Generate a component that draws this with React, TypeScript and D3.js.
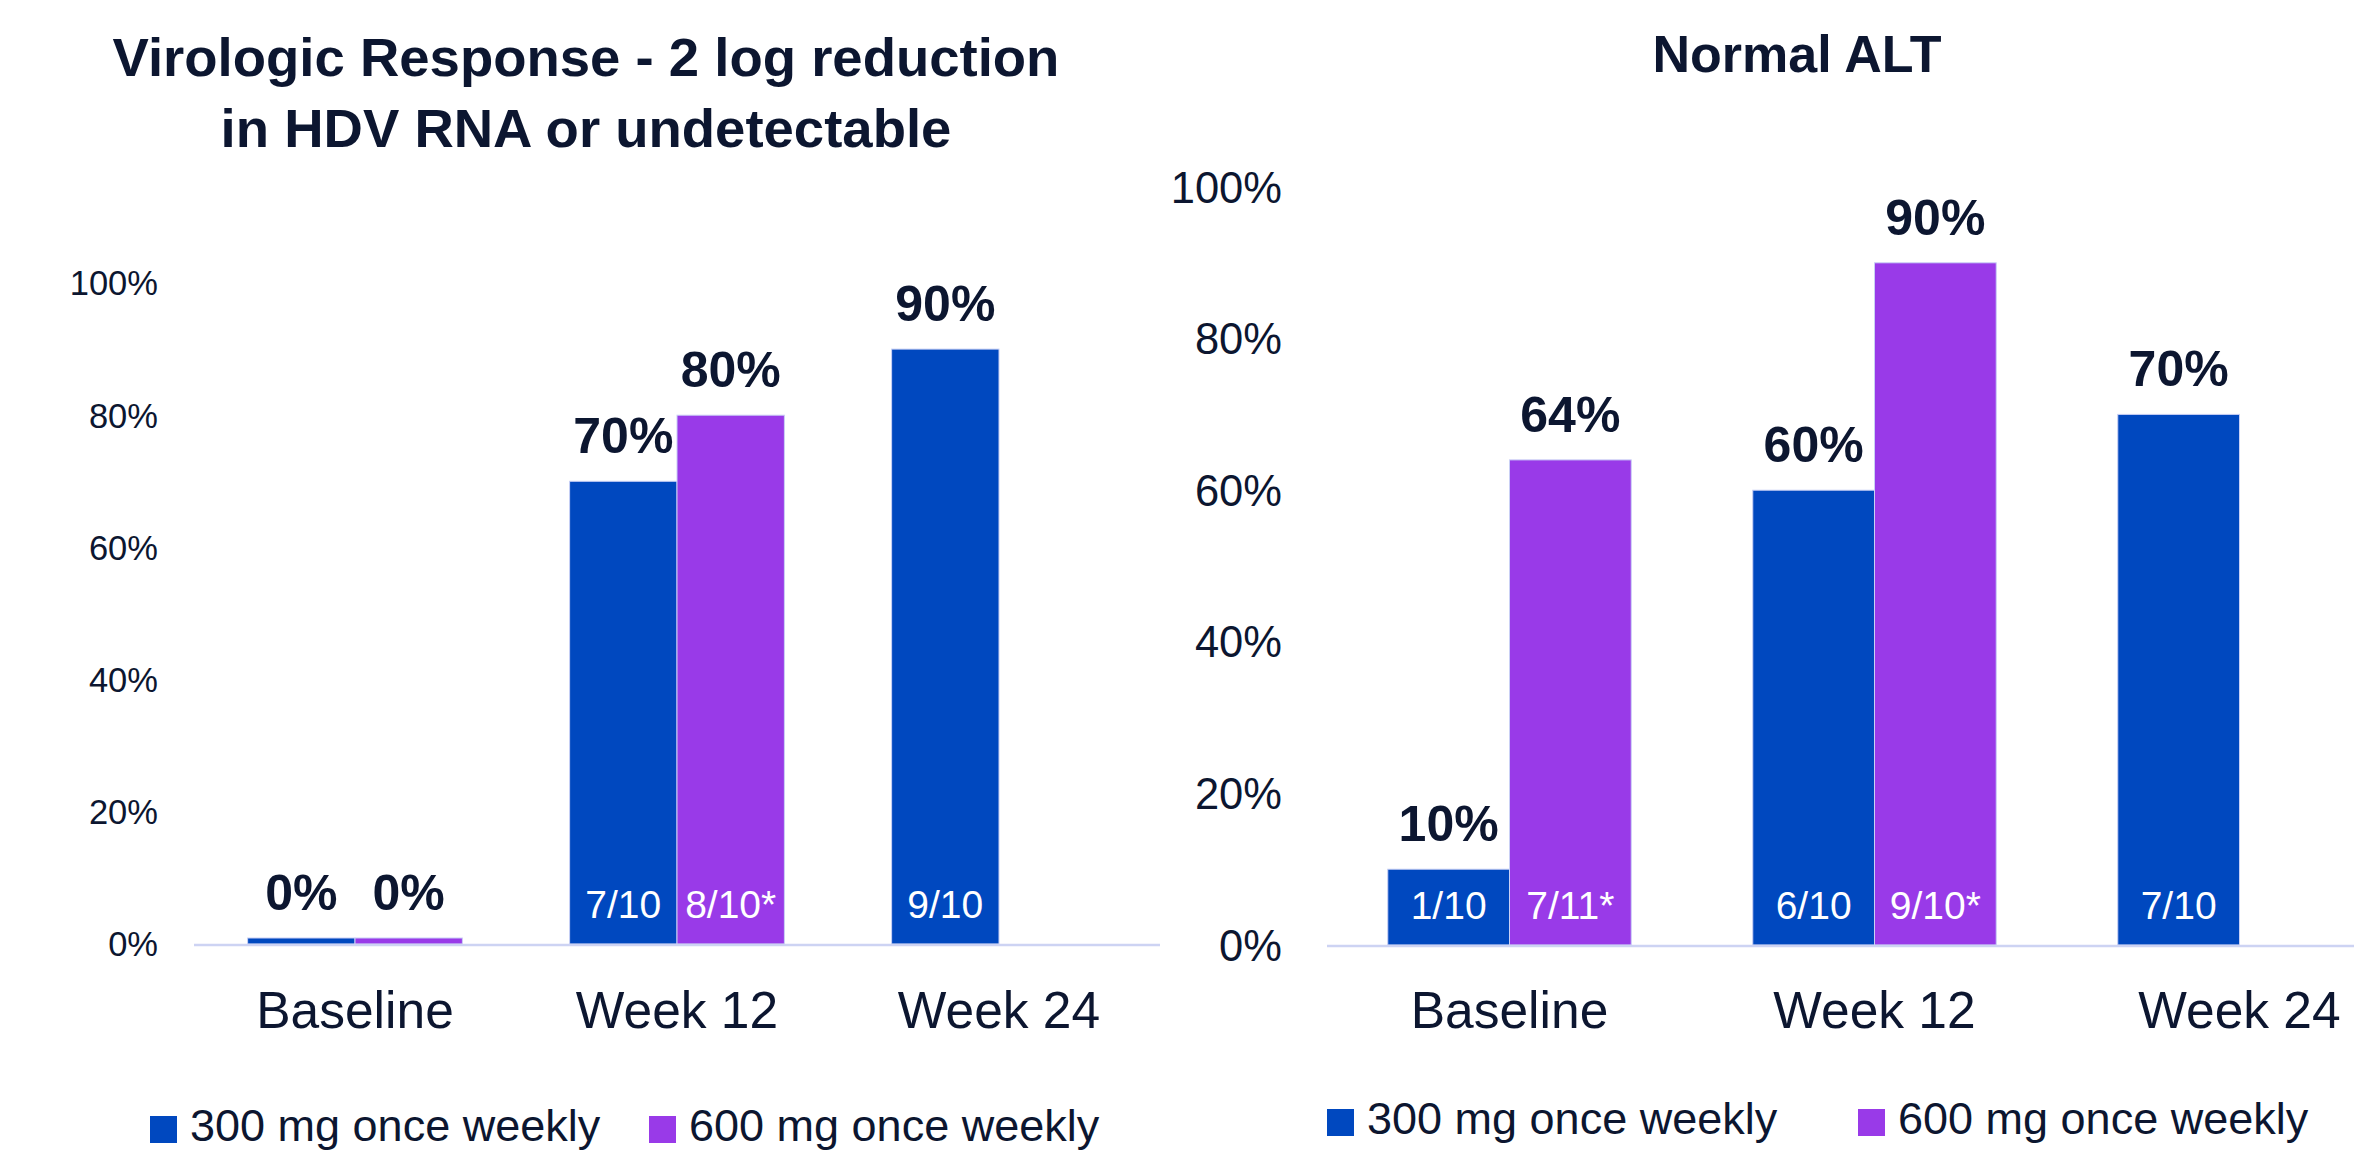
import { scaleBand, scaleLinear } from "d3";

// Shared categories / series
const categories = ["Baseline", "Week 12", "Week 24"];
const seriesNames = ["300 mg once weekly", "600 mg once weekly"];
const yTicks = [0, 20, 40, 60, 80, 100];

// Virologic response (%)
const virologic300 = [0, 70, 90];
const virologic600 = [0, 80, null];
const virologicCounts300 = ["", "7/10", "9/10"];
const virologicCounts600 = ["", "8/10*", null];

// Normal ALT (%)
const alt300 = [10, 60, 70];
const alt600 = [64, 90, null];
const altCounts300 = ["1/10", "6/10", "7/10"];
const altCounts600 = ["7/11*", "9/10*", null];

const colors = ["#0048BF", "#993AE8"];
const textColor = "#0C1630";
const axisColor = "#CDD3F3";
const fontFamily = "'Liberation Sans', Arial, sans-serif";

interface Panel {
  titleLines: string[];
  titleX: number;
  titleY: number[];
  titleSize: number;
  values: (number | null)[][];
  counts: (string | null)[][];
  xRange: [number, number];
  yRange: [number, number];
  axisEnd: number;
  tickX: number;
  tickSize: number;
  legendY: number;
  legendX: number[];
}

const panels: Panel[] = [
  {
    titleLines: ["Virologic Response - 2 log reduction", "in HDV RNA or undetectable"],
    titleX: 586,
    titleY: [76, 147],
    titleSize: 54.5,
    values: [virologic300, virologic600],
    counts: [virologicCounts300, virologicCounts600],
    xRange: [194, 1160],
    yRange: [944, 283],
    axisEnd: 1160,
    tickX: 158,
    tickSize: 34.5,
    legendY: 1116,
    legendX: [150, 649],
  },
  {
    titleLines: ["Normal ALT"],
    titleX: 1797,
    titleY: [72],
    titleSize: 52,
    values: [alt300, alt600],
    counts: [altCounts300, altCounts600],
    xRange: [1327, 2422],
    yRange: [945, 187],
    axisEnd: 2354,
    tickX: 1282,
    tickSize: 43.5,
    legendY: 1109,
    legendX: [1327, 1858],
  },
];

function BarPanel({ p }: { p: Panel }) {
  const x = scaleBand().domain(categories).range(p.xRange).paddingInner(0.333).paddingOuter(0.1665);
  const xSub = scaleBand().domain(seriesNames).range([0, x.bandwidth()]);
  const y = scaleLinear().domain([0, 100]).range(p.yRange);
  const y0 = y(0);

  return (
    <g fontFamily={fontFamily}>
      {p.titleLines.map((t, i) => (
        <text
          key={t}
          x={p.titleX}
          y={p.titleY[i]}
          textAnchor="middle"
          fontSize={p.titleSize}
          fontWeight="bold"
          fill={textColor}
        >
          {t}
        </text>
      ))}

      {/* y tick labels */}
      {yTicks.map((v) => (
        <text
          key={v}
          x={p.tickX}
          y={y(v)}
          dy="0.36em"
          textAnchor="end"
          fontSize={p.tickSize}
          fill={textColor}
        >
          {v}%
        </text>
      ))}

      {/* bars */}
      {seriesNames.map((s, si) =>
        categories.map((c, ci) => {
          const v = p.values[si][ci];
          if (v === null || v === undefined) return null;
          const bx = (x(c) ?? 0) + (xSub(s) ?? 0);
          const bw = xSub.bandwidth();
          const top = Math.min(y(v), y0 - 6);
          const count = p.counts[si][ci];
          return (
            <g key={`${s}-${c}`}>
              <rect
                x={bx}
                y={top}
                width={bw}
                height={y0 - top}
                fill={colors[si]}
                stroke="#C9D0F5"
                strokeWidth={1}
              />
              <text
                x={bx + bw / 2}
                y={top - 28}
                textAnchor="middle"
                fontSize={50}
                fontWeight="bold"
                fill={textColor}
              >
                {v}%
              </text>
              {count && (
                <text
                  x={bx + bw / 2}
                  y={y0 - 26}
                  textAnchor="middle"
                  fontSize={39}
                  fill="#ffffff"
                >
                  {count}
                </text>
              )}
            </g>
          );
        })
      )}

      {/* x axis line */}
      <line x1={p.xRange[0]} x2={p.axisEnd} y1={y0 + 1} y2={y0 + 1} stroke={axisColor} strokeWidth={2.5} />

      {/* category labels */}
      {categories.map((c) => (
        <text
          key={c}
          x={(x(c) ?? 0) + x.bandwidth() / 2}
          y={1028}
          textAnchor="middle"
          fontSize={51.5}
          fill={textColor}
        >
          {c}
        </text>
      ))}

      {/* legend */}
      {seriesNames.map((s, si) => (
        <g key={s} transform={`translate(${p.legendX[si]},${p.legendY})`}>
          <rect width={27} height={27} fill={colors[si]} />
          <text x={40} y={25} fontSize={45} fill={textColor}>
            {s}
          </text>
        </g>
      ))}
    </g>
  );
}

export default function App() {
  return (
    <svg
      width={2354}
      height={1162}
      style={{ position: "absolute", left: 0, top: 0, background: "#ffffff" }}
    >
      <rect width={2354} height={1162} fill="#ffffff" />
      {panels.map((p, i) => (
        <BarPanel key={i} p={p} />
      ))}
    </svg>
  );
}
